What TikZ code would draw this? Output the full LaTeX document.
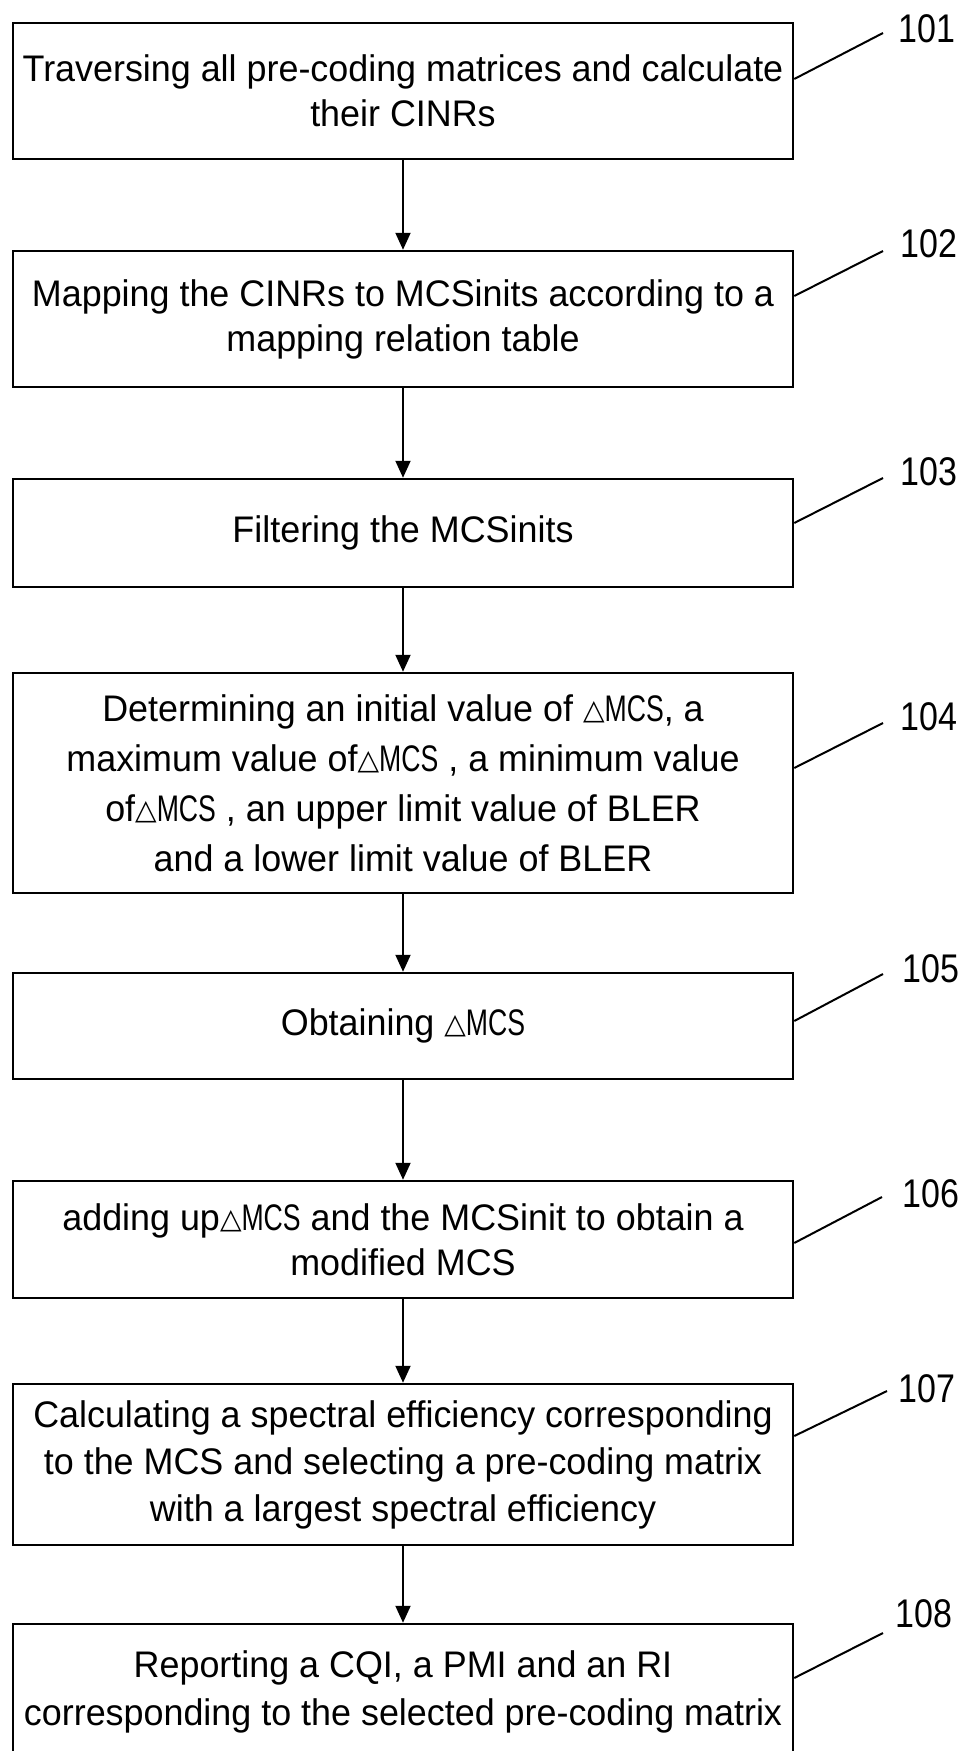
\documentclass[tikz,border=0pt]{standalone}
\usepackage{fontspec}
\setmainfont[FakeStretch=0.97]{Liberation Sans}
\newfontfamily\narrowfont[FakeStretch=0.85]{Liberation Sans}
\newfontfamily\deltafont{DejaVu Sans}
\usetikzlibrary{arrows.meta}
\pgfdeclarelayer{nodelayer}
\pgfdeclarelayer{edgelayer}
\pgfsetlayers{edgelayer,nodelayer,main}
\tikzset{proc/.style={draw, line width=2.5pt, fill=white, rectangle, minimum width=780pt, inner sep=0pt, align=center, font=\fontsize{37}{45}\selectfont}}
\tikzset{tag/.style={anchor=base west, inner sep=0pt, font=\fontsize{40}{40}\selectfont\narrowfont}}
\tikzset{flow/.style={line width=2pt, -{Triangle[length=17pt,width=15pt]}}}
\tikzset{lead/.style={line width=2pt}}
\newcommand{\dMCS}{{\deltafont\fontsize{28}{28}\selectfont\raisebox{2pt}{△}}{\addfontfeature{FakeStretch=0.72}MCS}}

\begin{document}
\begin{tikzpicture}[x=1pt, y=-1pt]
	\useasboundingbox (0, 0) rectangle (962, 1751);
	\begin{pgfonlayer}{nodelayer}
		\clip (0, 0) rectangle (962, 1751);
		\node [style=proc, minimum height=136pt] (0) at (403, 91) {Traversing all pre-coding matrices and calculate\\their CINRs};
		\node [style=proc, minimum height=136pt] (1) at (403, 319) {Mapping the CINRs to MCSinits according to a\\mapping relation table};
		\node [style=proc, minimum height=108pt] (2) at (403, 533) {Filtering the MCSinits};
		\node [style=proc, minimum height=220pt, font=\fontsize{37}{50}\selectfont] (3) at (403, 783) {Determining an initial value of \dMCS, a\\maximum value of\dMCS{} , a minimum value\\of\dMCS{} , an upper limit value of BLER\\and a lower limit value of BLER};
		\node [style=proc, minimum height=106pt] (4) at (403, 1026) {Obtaining \dMCS};
		\node [style=proc, minimum height=117pt] (5) at (403, 1239.5) {adding up\dMCS{} and the MCSinit to obtain a\\modified MCS};
		\node [style=proc, minimum height=161pt, font=\fontsize{37}{47}\selectfont] (6) at (403, 1464.5) {Calculating a spectral efficiency corresponding\\to the MCS and selecting a pre-coding matrix\\with a largest spectral efficiency};
		\node [style=proc, minimum height=136pt, font=\fontsize{37}{48}\selectfont] (7) at (403, 1692) {Reporting a CQI, a PMI and an RI\\corresponding to the selected pre-coding matrix};
		\node [style=tag] (8) at (898, 42) {101};
		\node [style=tag] (9) at (900, 257) {102};
		\node [style=tag] (10) at (900, 485) {103};
		\node [style=tag] (11) at (900, 730) {104};
		\node [style=tag] (12) at (902, 982) {105};
		\node [style=tag] (13) at (902, 1207) {106};
		\node [style=tag] (14) at (898, 1402) {107};
		\node [style=tag] (15) at (895, 1627) {108};
	\end{pgfonlayer}
	\begin{pgfonlayer}{edgelayer}
		\coordinate (l0) at (883, 33);
		\coordinate (l1) at (883, 251);
		\coordinate (l2) at (883, 478);
		\coordinate (l3) at (883, 723);
		\coordinate (l4) at (883, 974);
		\coordinate (l5) at (882, 1197);
		\coordinate (l6) at (887, 1391);
		\coordinate (l7) at (883, 1633);
		\draw [style=flow] (0) to (1);
		\draw [style=flow] (1) to (2);
		\draw [style=flow] (2) to (3);
		\draw [style=flow] (3) to (4);
		\draw [style=flow] (4) to (5);
		\draw [style=flow] (5) to (6);
		\draw [style=flow] (6) to (7);
		\draw [style=lead] ([yshift=12pt]0.east) to (l0);
		\draw [style=lead] ([yshift=23pt]1.east) to (l1);
		\draw [style=lead] ([yshift=10pt]2.east) to (l2);
		\draw [style=lead] ([yshift=15pt]3.east) to (l3);
		\draw [style=lead] ([yshift=5pt]4.east) to (l4);
		\draw [style=lead] ([yshift=-3.5pt]5.east) to (l5);
		\draw [style=lead] ([yshift=28.5pt]6.east) to (l6);
		\draw [style=lead] ([yshift=14pt]7.east) to (l7);
	\end{pgfonlayer}
\end{tikzpicture}
\end{document}
